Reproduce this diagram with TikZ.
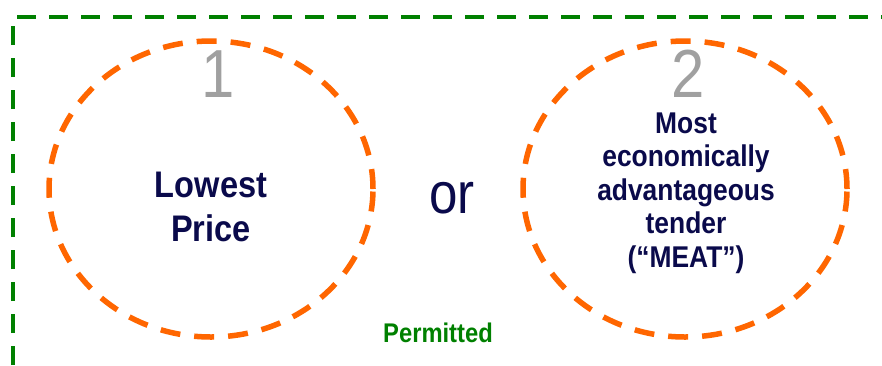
\documentclass[tikz,border=0pt]{standalone}
\usepackage{fontspec}
\setmainfont{Liberation Sans}[FakeStretch=0.88]
\usepackage{xcolor}
\usepackage{tikz}
\usetikzlibrary{shapes.geometric, positioning}

\definecolor{navytext}{RGB}{10,10,75}
\definecolor{dashorange}{RGB}{255,102,0}
\definecolor{okgreen}{RGB}{0,128,0}
\definecolor{numgray}{RGB}{160,160,160}

\begin{document}
\begin{tikzpicture}[x=1pt, y=-1pt,
            choice/.style={draw=dashorange, ellipse, line width=5.5pt, dash pattern=on 20pt off 14pt, minimum width=324pt, minimum height=296pt, inner sep=0pt},
            num/.style={font=\fontsize{68}{68}\selectfont, text=numgray, inner sep=0pt},
            crit/.style={font=\bfseries\fontsize{37}{44}\selectfont, text=navytext, align=center, inner sep=0pt},
            critsmall/.style={font=\bfseries\fontsize{30}{33.5}\selectfont, text=navytext, align=center, inner sep=0pt},
            frame/.style={draw=okgreen, line width=4pt, dash pattern=on 19pt off 13pt}
        ]
        \useasboundingbox (0,0) rectangle (882,365);

        % --- Permitted frame ---
        \draw[frame] (13,365) -- (13,17) -- (890,17);
        \node[font=\bfseries\fontsize{27}{27}\selectfont, text=okgreen, inner sep=0pt] (permitted) at (438,333) {Permitted};

        % --- Option 1 ---
        \node[choice] (lowest) at (211,189) {};
        \node[num] (one) at (218,74) {1};
        \node[crit] (lowest_txt) at (211,207) {Lowest\\Price};

        % --- or ---
        \node[font=\fontsize{58}{58}\selectfont, text=navytext, inner sep=0pt] (or) at (452,198) {or};

        % --- Option 2 ---
        \node[choice] (meat) at (685,189) {};
        \node[num] (two) at (688,74) {2};
        \node[critsmall] (meat_txt) at (686,193) {Most\\economically\\advantageous\\tender\\(“MEAT”)};

    \end{tikzpicture}
\end{document}
